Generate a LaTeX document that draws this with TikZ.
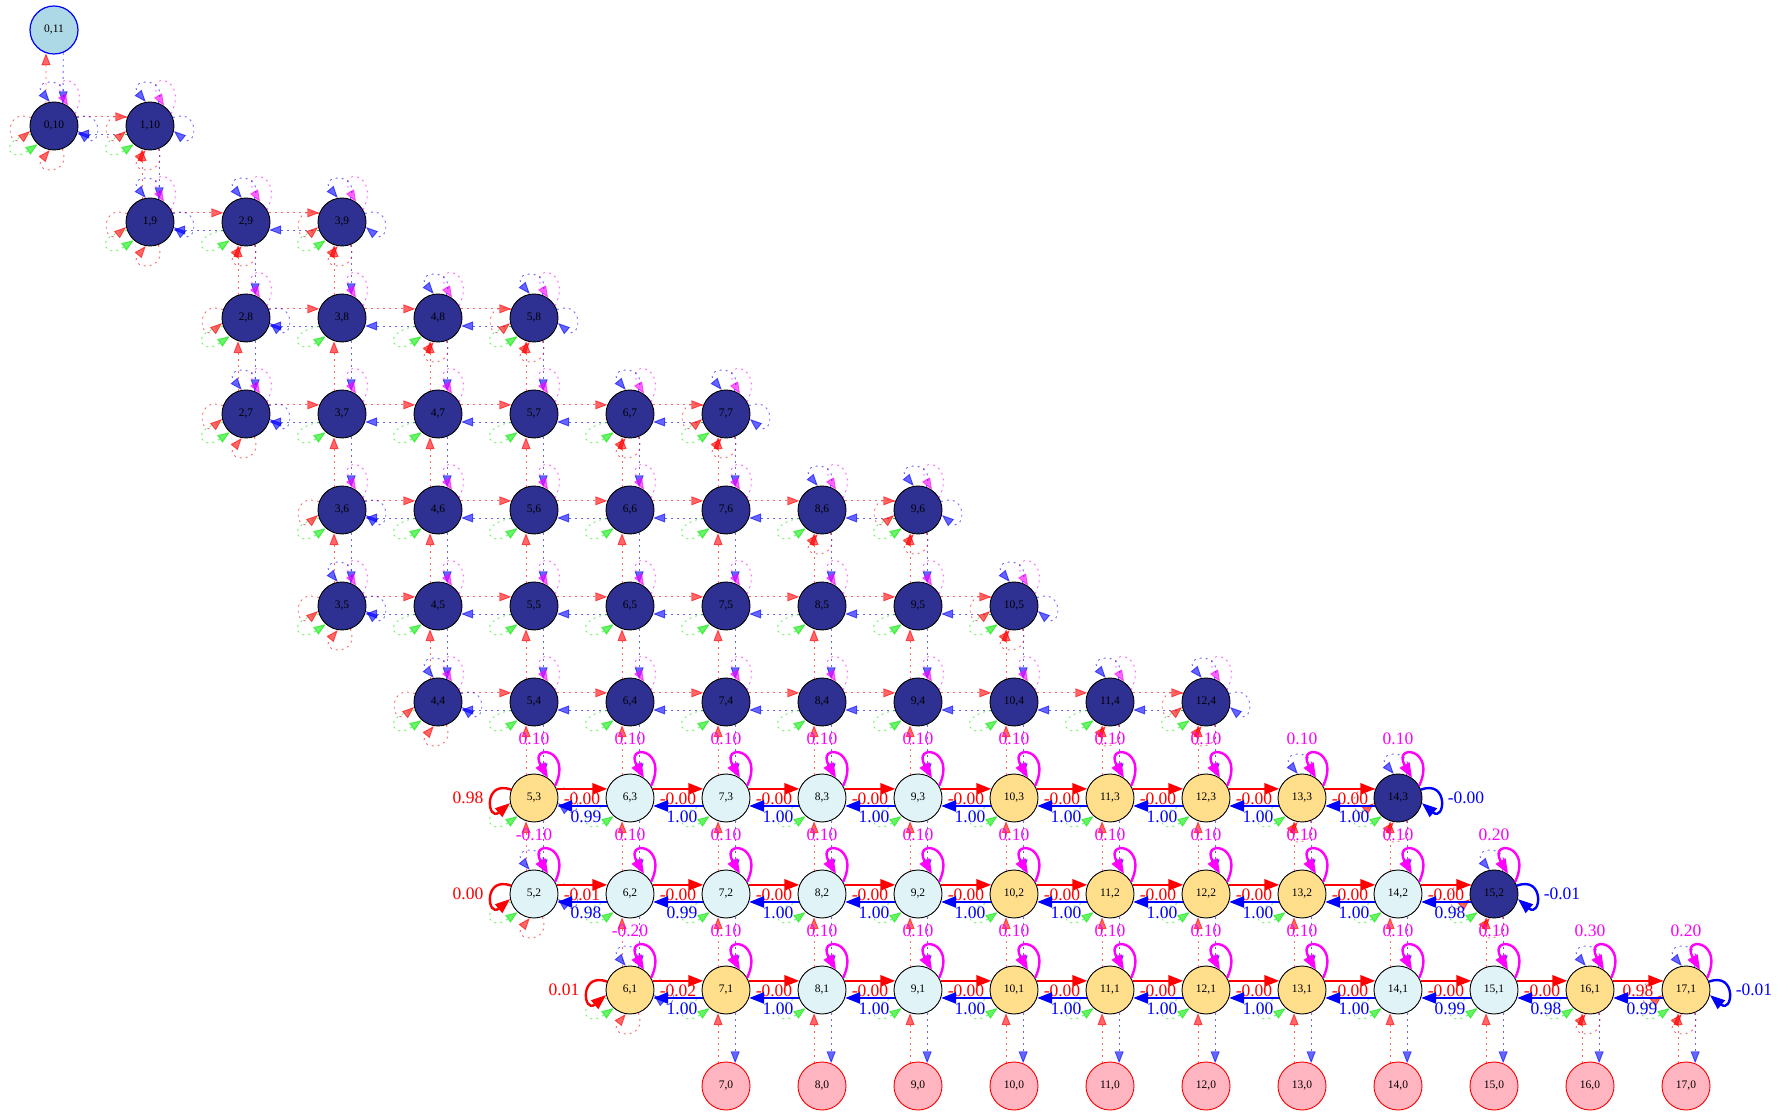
\documentclass[tikz,border=0pt]{standalone}
\usepackage{fontspec}
\setmainfont{Liberation Serif}
\usetikzlibrary{arrows.meta}
\definecolor{navyc}{RGB}{46,49,146}
\definecolor{cyanc}{RGB}{224,244,248}
\definecolor{yelc}{RGB}{255,222,140}
\definecolor{pinkc}{RGB}{255,182,193}
\definecolor{tbluec}{RGB}{173,216,230}
\definecolor{greenc}{RGB}{0,235,0}
\definecolor{magc}{RGB}{255,0,255}
\definecolor{redc}{RGB}{255,0,0}
\definecolor{bluec}{RGB}{0,0,255}
\def\lolist{{7,6,5,5,4,3,3,2,2,1,0,0,0}}
\def\hilist{{17,17,15,14,12,10,9,7,5,3,1,0,-1}}
\tikzset{
  st/.style={circle, draw=black, line width=0.9pt, minimum size=48pt, inner sep=0pt, font=\fontsize{11.5}{12}\selectfont},
  dk/.style={st, fill=navyc},
  lc/.style={st, fill=cyanc},
  yl/.style={st, fill=yelc},
  pk/.style={st, draw=redc, fill=pinkc},
  tb/.style={st, draw=bluec, line width=1.2pt, fill=tbluec},
  dt/.style={dash pattern=on 2pt off 4pt, line width=0.9pt, opacity=0.6, -{Triangle[length=12pt,width=9pt]}},
  dr/.style={dt, draw=redc},
  db/.style={dt, draw=bluec},
  dg/.style={dt, draw=greenc},
  dm/.style={dt, draw=magc},
  sl/.style={line width=2.4pt, -{Triangle[length=15pt,width=11pt]}},
  sr/.style={sl, draw=redc},
  sb/.style={sl, draw=bluec},
  sm/.style={sl, draw=magc},
  lab/.style={font=\fontsize{17.5}{18}\selectfont, inner sep=0pt},
}
\begin{document}
\begin{tikzpicture}[x=1pt,y=1pt]
\fill[white] (0,0) rectangle (1780,1117);
\path[use as bounding box] (0,0) rectangle (1780,1117);
% ---------- nodes ----------
\node[tb] (n0-11) at (54,1087) {0,11};
\foreach \r in {4,...,10} {
  \pgfmathtruncatemacro\lo{\lolist[\r]}
  \pgfmathtruncatemacro\hi{\hilist[\r]}
  \foreach \c in {\lo,...,\hi}
    \node[dk] (n\c-\r) at ({54+96*\c},{31+96*\r}) {\c,\r};
}
\foreach \c/\s in {5/yl,6/lc,7/lc,8/lc,9/lc,10/yl,11/yl,12/yl,13/yl,14/dk}
  \node[\s] (n\c-3) at ({54+96*\c},319) {\c,3};
\foreach \c/\s in {5/lc,6/lc,7/lc,8/lc,9/lc,10/yl,11/yl,12/yl,13/yl,14/lc,15/dk}
  \node[\s] (n\c-2) at ({54+96*\c},223) {\c,2};
\foreach \c/\s in {6/yl,7/yl,8/lc,9/lc,10/yl,11/yl,12/yl,13/yl,14/lc,15/lc,16/yl,17/yl}
  \node[\s] (n\c-1) at ({54+96*\c},127) {\c,1};
\foreach \c in {7,...,17}
  \node[pk] (n\c-0) at ({54+96*\c},31) {\c,0};
% ---------- horizontal dotted edges (rows 4-10) ----------
\foreach \r in {4,...,10} {
  \pgfmathtruncatemacro\lo{\lolist[\r]}
  \pgfmathtruncatemacro\hi{\hilist[\r]}
  \pgfmathtruncatemacro\lop{\lo+1}
  \foreach \c in {\lop,...,\hi} {
    \pgfmathtruncatemacro\p{\c-1}
    \draw[dr] (n\p-\r.22) -- (n\c-\r.158);
    \draw[db] (n\c-\r.199) -- (n\p-\r.-19);
  }
}
% ---------- vertical dotted edges ----------
\foreach \r in {1,...,11} {
  \pgfmathtruncatemacro\lo{\lolist[\r]}
  \pgfmathtruncatemacro\hi{\hilist[\r]}
  \pgfmathtruncatemacro\q{\r-1}
  \pgfmathtruncatemacro\lob{\lolist[\q]}
  \pgfmathtruncatemacro\hib{\hilist[\q]}
  \foreach \c in {\lo,...,\hi} {
    \pgfmathtruncatemacro\hb{and(\c>\lob-1,\c<\hib+1)}
    \ifnum\hb=1
      \draw[dr] (n\c-\q.109) -- (n\c-\r.251);
      \draw[db] (n\c-\r.-68) -- (n\c-\q.68);
    \fi
  }
}
% ---------- dotted self loops ----------
\foreach \r in {1,...,10} {
  \pgfmathtruncatemacro\lo{\lolist[\r]}
  \pgfmathtruncatemacro\hi{\hilist[\r]}
  \pgfmathtruncatemacro\ra{\r+1}
  \pgfmathtruncatemacro\rb{\r-1}
  \pgfmathtruncatemacro\loa{\lolist[\ra]}
  \pgfmathtruncatemacro\hia{\hilist[\ra]}
  \pgfmathtruncatemacro\lob{\lolist[\rb]}
  \pgfmathtruncatemacro\hib{\hilist[\rb]}
  \foreach \c in {\lo,...,\hi} {
    \pgfmathtruncatemacro\hl{\c>\lo}
    \pgfmathtruncatemacro\hr{\c<\hi}
    \pgfmathtruncatemacro\ha{and(\c>\loa-1,\c<\hia+1)}
    \pgfmathtruncatemacro\hb{and(\c>\lob-1,\c<\hib+1)}
    \draw[dg] (n\c-\r.200) .. controls +(190:35) and +(215:35) .. (n\c-\r.228);
    \ifnum\r>3
      \draw[dm] (n\c-\r.30) .. controls +(65:42) and +(120:40) .. (n\c-\r.55);
    \fi
    \pgfmathtruncatemacro\hz{\hl*\hr}
    \ifnum\hz=0
      \pgfmathtruncatemacro\dorl{or(\r>3,\hl==1)}
      \pgfmathtruncatemacro\dobr{or(\r>3,\hr==1)}
      \ifnum\dorl=1
        \draw[dr] (n\c-\r.160) .. controls +(160:30) and +(220:30) .. (n\c-\r.192);
      \fi
      \ifnum\dobr=1
        \draw[db] (n\c-\r.20) .. controls +(20:30) and +(-40:30) .. (n\c-\r.-12);
      \fi
    \fi
    \pgfmathtruncatemacro\hv{\ha*\hb}
    \ifnum\hv=0
      \draw[db] (n\c-\r.70) .. controls +(70:30) and +(130:30) .. (n\c-\r.100);
      \draw[dr] (n\c-\r.-70) .. controls +(-70:30) and +(-130:30) .. (n\c-\r.-100);
    \fi
  }
}
% ---------- solid horizontal edges (rows 1-3) ----------
\foreach \r/\a/\b/\rl/\bl in {
  3/5/6/-0.00/0.99, 3/6/7/-0.00/1.00, 3/7/8/-0.00/1.00, 3/8/9/-0.00/1.00, 3/9/10/-0.00/1.00,
  3/10/11/-0.00/1.00, 3/11/12/-0.00/1.00, 3/12/13/-0.00/1.00, 3/13/14/-0.00/1.00,
  2/5/6/-0.01/0.98, 2/6/7/-0.00/0.99, 2/7/8/-0.00/1.00, 2/8/9/-0.00/1.00, 2/9/10/-0.00/1.00,
  2/10/11/-0.00/1.00, 2/11/12/-0.00/1.00, 2/12/13/-0.00/1.00, 2/13/14/-0.00/1.00, 2/14/15/-0.00/0.98,
  1/6/7/-0.02/1.00, 1/7/8/-0.00/1.00, 1/8/9/-0.00/1.00, 1/9/10/-0.00/1.00, 1/10/11/-0.00/1.00,
  1/11/12/-0.00/1.00, 1/12/13/-0.00/1.00, 1/13/14/-0.00/1.00, 1/14/15/-0.00/0.99,
  1/15/16/-0.00/0.98, 1/16/17/0.98/0.99} {
  \draw[sr] (n\a-\r.22) -- (n\b-\r.158) node[lab, text=redc, midway, yshift=-10pt] (rh\a-\r) {\rl};
  \draw[sb] (n\b-\r.199) -- (n\a-\r.-19) node[lab, text=bluec, midway, yshift=-11pt, xshift=4pt] (bh\a-\r) {\bl};
}
% ---------- solid magenta self loops ----------
\foreach \r/\c/\m in {
  3/5/0.10, 3/6/0.10, 3/7/0.10, 3/8/0.10, 3/9/0.10, 3/10/0.10, 3/11/0.10, 3/12/0.10, 3/13/0.10, 3/14/0.10,
  2/5/-0.10, 2/6/0.10, 2/7/0.10, 2/8/0.10, 2/9/0.10, 2/10/0.10, 2/11/0.10, 2/12/0.10, 2/13/0.10, 2/14/0.10, 2/15/0.20,
  1/6/-0.20, 1/7/0.10, 1/8/0.10, 1/9/0.10, 1/10/0.10, 1/11/0.10, 1/12/0.10, 1/13/0.10, 1/14/0.10, 1/15/0.10,
  1/16/0.30, 1/17/0.20} {
  \draw[sm] (n\c-\r.30) .. controls +(65:42) and +(120:40) .. (n\c-\r.55);
  \path (n\c-\r.center) ++(0,59) node[lab, text=magc] (ml\c-\r) {\m};
}
% ---------- solid red / blue self loops ----------
\foreach \r/\c/\v in {3/5/0.98, 2/5/0.00, 1/6/0.01} {
  \draw[sr] (n\c-\r.160) .. controls +(160:30) and +(220:30) .. (n\c-\r.192);
  \path (n\c-\r.center) ++(-66,0) node[lab, text=redc] (rl\c-\r) {\v};
}
\foreach \r/\c/\v in {3/14/-0.00, 2/15/-0.01, 1/17/-0.01} {
  \draw[sb] (n\c-\r.20) .. controls +(20:30) and +(-40:30) .. (n\c-\r.-12);
  \path (n\c-\r.center) ++(68,0) node[lab, text=bluec] (bl\c-\r) {\v};
}
\end{tikzpicture}
\end{document}
